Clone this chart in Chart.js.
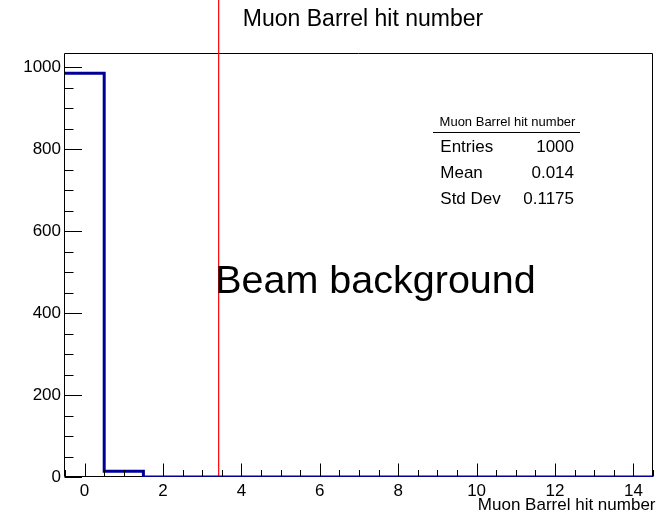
<!DOCTYPE html>
<html>
<head>
<meta charset="utf-8">
<title>Muon Barrel hit number</title>
<script src="https://cdn.jsdelivr.net/npm/chart.js@4/dist/chart.umd.min.js"></script>
<style>
  html, body { margin: 0; padding: 0; background: #ffffff; }
  canvas { display: block; }
</style>
</head>
<body>
<canvas id="hist" width="658" height="518"></canvas>
<script>
// Histogram of muon barrel hits per event (bins of width 1 centred on integers)
const binCenters = [0, 1, 2, 3, 4, 5, 6, 7, 8, 9, 10, 11, 12, 13, 14];
const binCounts  = [986, 14, 0, 0, 0, 0, 0, 0, 0, 0, 0, 0, 0, 0, 0];

const xTickValues = [0, 2, 4, 6, 8, 10, 12, 14];
const yTickValues = [0, 200, 400, 600, 800, 1000];

const histTitle = 'Muon Barrel hit number';
const xAxisTitle = 'Muon Barrel hit number';
const statsLabels = ['Entries', 'Mean', 'Std Dev'];
const statsValues = ['1000', '0.014', '0.1175'];

const markerX = 3.42;            // position of the red marker line
const markerText = 'Beam background';

const FONT = '"Liberation Sans", Arial, Helvetica, sans-serif';

// Step outline: one point per left bin edge, plus the final right edge
const halfWidth = 0.5;
const outline = binCenters.map((c, i) => ({ x: c - halfWidth, y: binCounts[i] }));
outline.push({ x: binCenters[binCenters.length - 1] + halfWidth, y: binCounts[binCounts.length - 1] });

const xMin = binCenters[0] - halfWidth;
const xMax = binCenters[binCenters.length - 1] + halfWidth;
const yMax = Math.max(...binCounts) * 1.05;

function frameEdges(area) {
  return {
    L: Math.round(area.left) - 0.5,
    R: Math.round(area.right) - 0.5,
    T: Math.round(area.top) + 0.5,
    B: Math.round(area.bottom) - 0.5
  };
}

const decorations = {
  id: 'rootStyle',
  beforeDatasetsDraw(chart) {
    const ctx = chart.ctx;
    const { L, R, T, B } = frameEdges(chart.chartArea);
    ctx.save();
    // frame
    ctx.lineWidth = 1;
    ctx.strokeStyle = '#000000';
    ctx.beginPath();
    ctx.rect(L, T, R - L, B - T);
    ctx.stroke();

    // red marker line, running from the top of the canvas down to the axis
    const mx = chart.scales.x.getPixelForValue(markerX);
    ctx.strokeStyle = '#ff0000';
    ctx.lineWidth = 1.2;
    ctx.beginPath();
    ctx.moveTo(mx, 0);
    ctx.lineTo(mx, B);
    ctx.stroke();
    ctx.restore();
  },
  afterDatasetsDraw(chart) {
    const ctx = chart.ctx;
    const xs = chart.scales.x;
    const ys = chart.scales.y;
    const { L, B } = frameEdges(chart.chartArea);
    ctx.save();
    ctx.lineWidth = 1;
    ctx.strokeStyle = '#000000';

    // x ticks (pointing into the plot)
    const xMajorLen = 13, xMinorLen = 6.5;
    ctx.beginPath();
    for (let v = xMin; v <= xMax + 1e-9; v += 0.5) {
      const px = Math.round(xs.getPixelForValue(v)) + 0.5;
      const isMajor = xTickValues.includes(v);
      ctx.moveTo(px, B);
      ctx.lineTo(px, B - (isMajor ? xMajorLen : xMinorLen));
    }
    // y ticks
    const yMajorLen = 17.5, yMinorLen = 9;
    for (let v = 0; v <= yMax; v += 50) {
      const py = Math.round(ys.getPixelForValue(v)) + 0.5;
      const isMajor = yTickValues.includes(v);
      ctx.moveTo(L, py);
      ctx.lineTo(L + (isMajor ? yMajorLen : yMinorLen), py);
    }
    ctx.stroke();

    // marker label
    const mx = xs.getPixelForValue(markerX);
    ctx.fillStyle = '#000000';
    ctx.textBaseline = 'alphabetic';
    ctx.textAlign = 'left';
    ctx.font = '39.5px ' + FONT;
    ctx.fillText(markerText, mx - 3.5, 293);

    // histogram title
    ctx.textAlign = 'center';
    ctx.font = '23px ' + FONT;
    ctx.fillText(histTitle, 363, 26);

    // x axis title
    ctx.textAlign = 'right';
    ctx.font = '17px ' + FONT;
    ctx.fillText(xAxisTitle, 655.5, 510);

    // statistics box
    ctx.textAlign = 'center';
    ctx.font = '13px ' + FONT;
    ctx.fillText(histTitle, 507.5, 126);
    ctx.beginPath();
    ctx.moveTo(433, 132.5);
    ctx.lineTo(580, 132.5);
    ctx.stroke();
    ctx.font = '17px ' + FONT;
    const rows = [152, 178.3, 204.3];
    statsLabels.forEach((lab, i) => {
      ctx.textAlign = 'left';
      ctx.fillText(lab, 440.3, rows[i]);
      ctx.textAlign = 'right';
      ctx.fillText(statsValues[i], 574, rows[i]);
    });

    ctx.restore();
  }
};

new Chart(document.getElementById('hist'), {
  type: 'line',
  data: {
    datasets: [{
      data: outline,
      stepped: true,
      borderColor: '#000099',
      borderWidth: 3,
      pointRadius: 0,
      fill: false,
      tension: 0
    }]
  },
  options: {
    responsive: false,
    animation: false,
    devicePixelRatio: 1,
    layout: { padding: { top: 53, right: 5, left: 0, bottom: 0 } },
    plugins: {
      legend: { display: false },
      tooltip: { enabled: false },
      title: { display: false }
    },
    scales: {
      x: {
        type: 'linear',
        min: xMin,
        max: xMax,
        grid: { display: false, drawTicks: false },
        border: { display: false },
        afterBuildTicks: s => { s.ticks = xTickValues.map(v => ({ value: v })); },
        afterFit: s => { s.height = 41; },
        ticks: {
          padding: 4,
          maxRotation: 0,
          autoSkip: false,
          color: '#000000',
          font: { family: FONT, size: 17 },
          callback: v => String(v)
        }
      },
      y: {
        type: 'linear',
        min: 0,
        max: yMax,
        grid: { display: false, drawTicks: false },
        border: { display: false },
        afterBuildTicks: s => { s.ticks = yTickValues.map(v => ({ value: v })); },
        afterFit: s => { s.width = 65; },
        ticks: {
          padding: 4,
          autoSkip: false,
          color: '#000000',
          font: { family: FONT, size: 17 },
          callback: v => String(v)
        }
      }
    }
  },
  plugins: [decorations]
});
</script>
</body>
</html>
